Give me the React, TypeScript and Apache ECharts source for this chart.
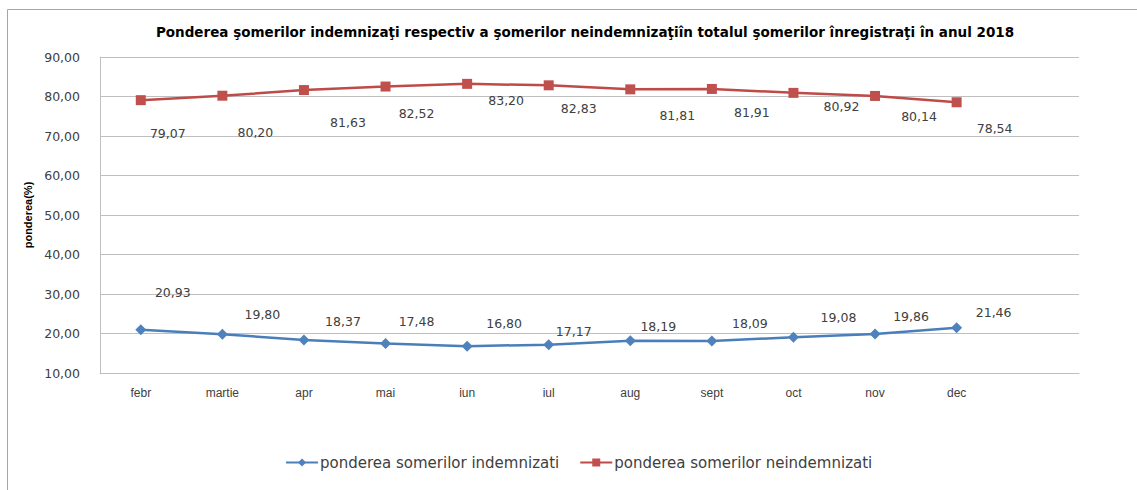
import React, { useEffect, useRef } from "react";
import * as echarts from "echarts";

const categories = ["febr", "martie", "apr", "mai", "iun", "iul", "aug", "sept", "oct", "nov", "dec", ""];
const indemnizati = [20.93, 19.8, 18.37, 17.48, 16.8, 17.17, 18.19, 18.09, 19.08, 19.86, 21.46];
const neindemnizati = [79.07, 80.2, 81.63, 82.52, 83.2, 82.83, 81.81, 81.91, 80.92, 80.14, 78.54];
const yTicks = { min: 10, max: 90, interval: 10 };

// label offsets (layout only)
const blueLabelOffsets = [[32, -37], [40, -20], [39, -18], [31, -22], [37, -23], [25, -13], [28, -14], [38, -18], [45, -20], [36, -18], [37, -15]];
const redLabelOffsets = [[27, 33], [33, 37], [44, 32], [31, 27], [39, 17], [30, 23], [47, 26], [40, 24], [48, 14], [44, 21], [38, 26]];

const fmt = (v: number) => v.toFixed(2).replace(".", ",");

export default function App() {
  const ref = useRef<HTMLDivElement>(null);
  useEffect(() => {
    if (!ref.current) return;
    const chart = echarts.init(ref.current, null, { renderer: "svg" });
    const labelBase = {
      show: true,
      position: "inside",
      align: "center",
      verticalAlign: "middle",
      fontFamily: "DejaVu Sans",
      fontSize: 12.5,
      color: "#404040",
      formatter: (p: any) => fmt(p.value),
    };
    chart.setOption({
      animation: false,
      backgroundColor: "#ffffff",
      title: {
        text: "Ponderea şomerilor indemnizaţi respectiv a şomerilor neindemnizaţiîn totalul şomerilor înregistraţi în anul 2018",
        left: 580,
        top: 20,
        textAlign: "center",
        textStyle: { fontFamily: "DejaVu Sans", fontWeight: "bold", fontSize: 13.5, color: "#000" },
      },
      graphic: [
        {
          type: "rect",
          shape: { x: 7.5, y: 9.5, width: 1200, height: 600 },
          style: { fill: "none", stroke: "#a6a6a6", lineWidth: 1 },
          silent: true,
        },
      ],
      legend: {
        bottom: 15,
        left: 280,
        itemWidth: 32,
        itemHeight: 10,
        itemGap: 20,
        textStyle: { fontFamily: "DejaVu Sans", fontSize: 15, color: "#404040", padding: [0, 0, 0, -3] },
        data: ["ponderea somerilor indemnizati", "ponderea somerilor neindemnizati"],
      },
      grid: { left: 100, right: 58, top: 57, bottom: 117 },
      xAxis: {
        type: "category",
        data: categories,
        boundaryGap: true,
        axisLine: { show: true, lineStyle: { color: "#bfbfbf" } },
        axisTick: { show: false },
        axisLabel: { fontFamily: "Liberation Sans", fontSize: 12, color: "#404040", margin: 14 },
      },
      yAxis: {
        type: "value",
        min: yTicks.min,
        max: yTicks.max,
        interval: yTicks.interval,
        name: "ponderea(%)",
        nameLocation: "middle",
        nameRotate: 90,
        nameGap: 66,
        nameTextStyle: { fontFamily: "Liberation Sans", fontWeight: "bold", fontSize: 11, color: "#000" },
        axisLine: { show: true, lineStyle: { color: "#bfbfbf" } },
        axisTick: { show: false },
        axisLabel: { fontFamily: "DejaVu Sans", fontSize: 12.5, color: "#404040", margin: 20, formatter: (v: number) => fmt(v) },
        splitLine: { lineStyle: { color: "#bfbfbf", width: 1 } },
      },
      series: [
        {
          name: "ponderea somerilor indemnizati",
          type: "line",
          data: indemnizati.map((v, i) => ({ value: v, label: { offset: blueLabelOffsets[i] } })),
          symbol: "diamond",
          symbolSize: 11,
          lineStyle: { color: "#4a7ebb", width: 2.5 },
          itemStyle: { color: "#4f81bd" },
          label: labelBase,
        },
        {
          name: "ponderea somerilor neindemnizati",
          type: "line",
          data: neindemnizati.map((v, i) => ({ value: v, label: { offset: redLabelOffsets[i] } })),
          symbol: "rect",
          symbolSize: 10,
          lineStyle: { color: "#be4b48", width: 2.5 },
          itemStyle: { color: "#c0504d" },
          label: labelBase,
        },
      ],
    });
    return () => chart.dispose();
  }, []);
  return (
    <div
      ref={ref}
      style={{ position: "fixed", left: 0, top: 0, width: 1137, height: 490, background: "#fff" }}
    />
  );
}
